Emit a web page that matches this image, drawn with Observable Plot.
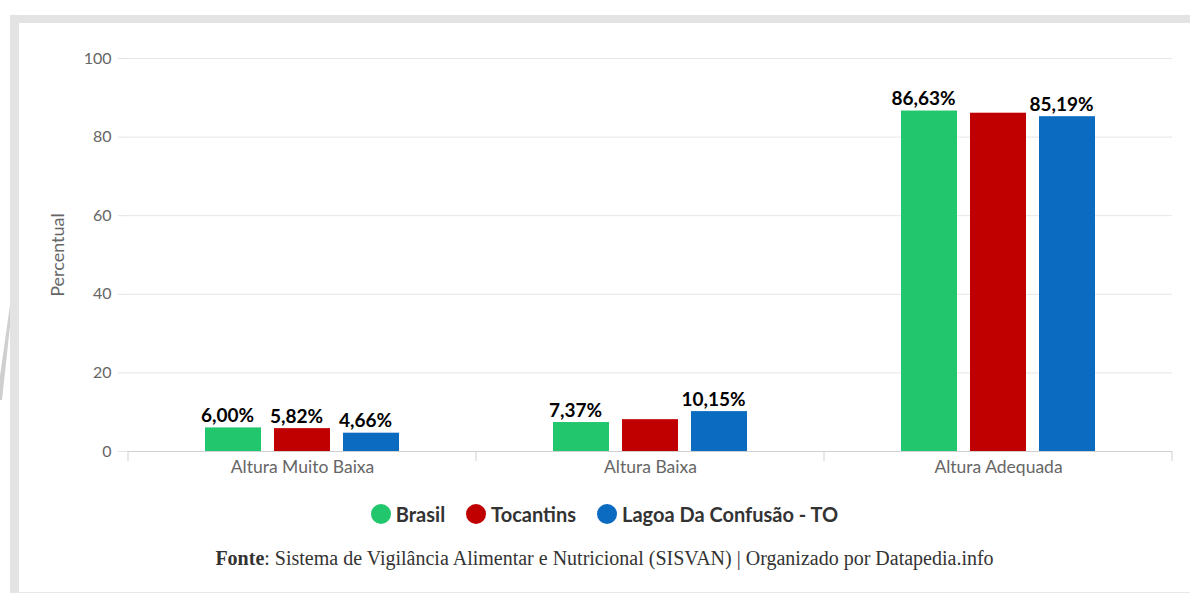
<!DOCTYPE html>
<html>
<head>
<meta charset="utf-8">
<script src="https://cdn.jsdelivr.net/npm/d3@7"></script>
<script src="https://cdn.jsdelivr.net/npm/@observablehq/plot@0.6"></script>
<style>
  html, body { margin: 0; padding: 0; background: #fff; }
  body { width: 1190px; height: 595px; position: relative; overflow: hidden; font-family: Lato, sans-serif; }
  #frame { position: absolute; left: 10px; top: 15px; width: 1200px; height: 578px; box-sizing: border-box;
           border-top: 8px solid #e3e3e3; border-left: 9px solid #e3e3e3; border-bottom: 1px solid #e8e8e8; }
  #wedge { position: absolute; left: 0; top: 305px; width: 10px; height: 95px; background: #cfcfcf;
           clip-path: polygon(100% 0%, 100% 22%, 20% 100%, 0% 100%, 0% 75%); }
  #chart { position: absolute; left: 19px; top: 23px; }
  #legend { position: absolute; left: 19px; width: 1171px; top: 502px; height: 24px; display: flex; justify-content: center;
            align-items: center; gap: 21px; font-weight: bold; font-size: 20px; color: #333; }
  .item { display: flex; align-items: center; gap: 5px; }
  .dot { width: 20px; height: 20px; border-radius: 50%; display: inline-block; }
  #caption { position: absolute; left: 19px; width: 1171px; top: 547px; text-align: center;
             font-family: "Liberation Serif", serif; font-size: 20px; color: #333; }
</style>
</head>
<body>
<div id="frame"></div>
<div id="wedge"></div>
<div id="chart"></div>
<div id="legend"></div>
<div id="caption"><b>Fonte</b>: Sistema de Vigilância Alimentar e Nutricional (SISVAN) | Organizado por Datapedia.info</div>
<script>
const categories = ["Altura Muito Baixa", "Altura Baixa", "Altura Adequada"];
const series = ["Brasil", "Tocantins", "Lagoa Da Confusão - TO"];
const colors = ["#22c66d", "#c00000", "#0a6bc1"];
const brasil = [6.00, 7.37, 86.63];
const tocantins = [5.82, 8.10, 86.08];
const lagoa = [4.66, 10.15, 85.19];
const brasilLabels = ["6,00%", "7,37%", "86,63%"];
const tocantinsLabels = ["5,82%", null, null];
const lagoaLabels = ["4,66%", "10,15%", "85,19%"];
const yTicks = [0, 20, 40, 60, 80, 100];
const yTitle = "Percentual";

const seriesValues = [brasil, tocantins, lagoa];
const seriesLabels = [brasilLabels, tocantinsLabels, lagoaLabels];
const rows = [];
categories.forEach((c, i) => {
  series.forEach((s, j) => {
    rows.push({category: c, series: s, value: seriesValues[j][i], label: seriesLabels[j][i]});
  });
});

const plot = Plot.plot({
  width: 1171,
  height: 457,
  marginLeft: 108,
  marginRight: 18,
  marginTop: 35,
  marginBottom: 29,
  style: {fontFamily: "Lato, sans-serif", background: "transparent", overflow: "visible"},
  fx: {domain: categories, padding: 0, label: null},
  x: {domain: series, paddingInner: 0.186, paddingOuter: 1.086, axis: null},
  y: {domain: [0, 100], ticks: yTicks},
  color: {domain: series, range: colors},
  marks: [
    Plot.gridY(yTicks, {stroke: "#e6e6e6", strokeOpacity: 1}),
    Plot.axisY(yTicks, {tickSize: 10, tickPadding: 7, stroke: "#e3e3e3", fill: "#666", fontSize: 16, label: null}),
    Plot.text([yTitle], {text: d => d, frameAnchor: "left", facetAnchor: "left", rotate: -90, dx: -70,
      fontSize: 18, fill: "#666", textAnchor: "middle", lineAnchor: "middle"}),
    Plot.ruleY([0], {stroke: "#d0d0d0"}),
    Plot.barY(rows, {fx: "category", x: "series", y: "value", fill: "series"}),
    Plot.text(rows.filter(d => d.label), {fx: "category", x: "series", y: "value", text: "label",
      dy: -6, dx: -6, lineAnchor: "bottom", fontWeight: "bold", fontSize: 19, fill: "#000"}),
    Plot.axisFx({anchor: "bottom", tickSize: 0, tickPadding: 9, fontSize: 17.5, fill: "#666", label: null})
  ]
});

try {
  const fxs = plot.scale("fx");
  const ys = plot.scale("y");
  const y0 = ys.apply(0);
  const edges = categories.map(c => fxs.apply(c));
  edges.push(fxs.apply(categories[categories.length - 1]) + fxs.bandwidth);
  d3.select(plot).append("g").selectAll("line").data(edges).join("line")
    .attr("x1", d => d).attr("x2", d => d).attr("y1", y0).attr("y2", y0 + 10)
    .attr("stroke", "#d0d0d0");
} catch (e) {}

document.getElementById("chart").appendChild(plot);

const legend = d3.select("#legend");
series.forEach((s, j) => {
  const item = legend.append("div").attr("class", "item");
  item.append("span").attr("class", "dot").style("background", colors[j]);
  item.append("span").text(s);
});
</script>
</body>
</html>
